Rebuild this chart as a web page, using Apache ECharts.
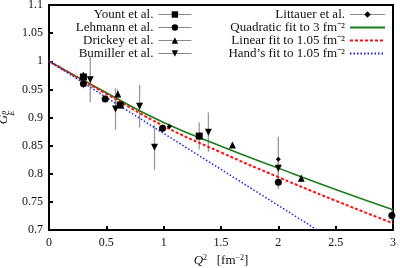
<!DOCTYPE html>
<html>
<head>
<meta charset="utf-8">
<script src="https://cdn.jsdelivr.net/npm/echarts@6/dist/echarts.min.js"></script>
<style>
  html, body { margin: 0; padding: 0; background: #fff; }
  #chart { width: 400px; height: 268px; }
</style>
</head>
<body>
<div id="chart"></div>
<script>
// measured points (Q^2 in fm^-2, G_E^p, error)
const yountX = [0.30, 0.62, 1.31];
const yountY = [0.972, 0.922, 0.867];
const yountErr = [0.006, 0.006, 0.024];

const lehmannX = [0.30, 0.49, 0.99, 2.00, 2.99];
const lehmannY = [0.960, 0.933, 0.881, 0.785, 0.726];
const lehmannErr = [0.008, 0.006, 0.006, 0.012, 0.010];

const drickeyX = [0.30, 0.60, 1.60, 2.20];
const drickeyY = [0.975, 0.942, 0.851, 0.792];
const drickeyErr = [0.006, 0.008, 0.004, 0.006];

const bumillerX = [0.36, 0.58, 0.79, 0.92, 1.39, 2.00];
const bumillerY = [0.967, 0.915, 0.920, 0.847, 0.874, 0.810];
const bumillerErr = [0.040, 0.037, 0.038, 0.040, 0.035, 0.020];

const littauerX = [1.05, 2.00];
const littauerY = [0.884, 0.826];
const littauerErr = [0.005, 0.040];

// fit curves
const quadX = [0, 0.5, 1, 1.5, 2, 2.5, 3];
const quadY = [1, 0.944, 0.891, 0.849, 0.810, 0.772, 0.736];
const linX = [0, 0.5, 1, 1.5, 2, 2.5, 3];
const linY = [1, 0.942, 0.885, 0.838, 0.794, 0.752, 0.712];
const handX = [0, 2.34];
const handY = [1, 0.70];

const serif = 'Liberation Serif';

function pts(xs, ys) { return xs.map((x, i) => [x, ys[i]]) }
function bars(xs, ys, es) { return xs.map((x, i) => [x, ys[i] - es[i], ys[i] + es[i]]) }

function errSeries(xs, ys, es) {
    return {
        type: 'custom',
        silent: true,
        z: 1,
        data: bars(xs, ys, es),
        renderItem(params, api) {
            const a = api.coord([api.value(0), api.value(1)])
            const b = api.coord([api.value(0), api.value(2)])
            return {
                type: 'line',
                shape: { x1: a[0], y1: a[1], x2: b[0], y2: b[1] },
                style: { stroke: '#999', lineWidth: 1.3 }
            }
        }
    }
}

function dataSeries(name, xs, ys, symbol, size) {
    return {
        name: name,
        type: 'line',
        z: 3,
        data: pts(xs, ys),
        symbol: symbol,
        symbolSize: size,
        itemStyle: { color: '#000' },
        lineStyle: { opacity: 0 }
    }
}

const legendLine = { opacity: 1, color: '#888', width: 1.2 }
const noSymbol = { opacity: 0 }
const textStyle = { fontFamily: serif, fontSize: 13, color: '#111', lineHeight: 12 }

const chart = echarts.init(document.getElementById('chart'))
chart.setOption({
    animation: false,
    grid: {
        left: 49, right: 7, top: 5, bottom: 38,
        containLabel: false, outerBoundsMode: 'none',
        show: true, borderColor: '#000', borderWidth: 2
    },
    legend: [
        {
            orient: 'vertical', right: 208, top: 8, align: 'right',
            itemWidth: 33, itemHeight: 8, itemGap: 0, padding: 0,
            textStyle: textStyle,
            data: [
                { name: 'Yount et al.', lineStyle: legendLine },
                { name: 'Lehmann et al.', lineStyle: legendLine },
                { name: 'Drickey et al.', lineStyle: legendLine },
                { name: 'Bumiller et al.', lineStyle: legendLine }
            ]
        },
        {
            orient: 'vertical', right: 14, top: 8, align: 'right',
            itemWidth: 35, itemHeight: 8, itemGap: 0, padding: 0,
            textStyle: textStyle,
            data: [
                { name: 'Littauer et al.', lineStyle: legendLine },
                { name: 'Quadratic fit to 3 fm⁻²', itemStyle: noSymbol },
                { name: 'Linear fit to 1.05 fm⁻²', itemStyle: noSymbol },
                { name: 'Hand’s fit to 1.05 fm⁻²', itemStyle: noSymbol }
            ]
        }
    ],
    xAxis: {
        type: 'value', min: 0, max: 3, interval: 0.5,
        name: '{q|Q}{s|2}{n|   [fm}{s|−2}{n|]}',
        nameLocation: 'middle', nameGap: 22,
        nameTextStyle: {
            rich: {
                q: { fontFamily: serif, fontStyle: 'italic', fontSize: 13, color: '#111' },
                n: { fontFamily: serif, fontSize: 13, color: '#111' },
                s: { fontFamily: serif, fontSize: 8, color: '#111', verticalAlign: 'top', padding: [0, 0, 6, 0] }
            }
        },
        axisLine: { show: true, lineStyle: { color: '#000', width: 2 } },
        axisTick: { inside: true, length: 4, lineStyle: { color: '#000', width: 2 } },
        axisLabel: { fontFamily: serif, fontSize: 12, color: '#111', margin: 7 },
        splitLine: { show: false }
    },
    yAxis: {
        type: 'value', min: 0.7, max: 1.1, interval: 0.05,
        name: '{g|G}{s|p}\n{e|E}',
        nameLocation: 'middle', nameGap: 33, nameRotate: 90, nameMoveOverlap: false,
        nameTextStyle: {
            lineHeight: 8,
            rich: {
                g: { fontFamily: serif, fontStyle: 'italic', fontSize: 13, color: '#111', lineHeight: 8 },
                s: { fontFamily: serif, fontStyle: 'italic', fontSize: 8, color: '#111', lineHeight: 8 },
                e: { fontFamily: serif, fontStyle: 'italic', fontSize: 8, color: '#111', lineHeight: 8, padding: [0, 0, 0, 9] }
            }
        },
        axisLine: { show: true, lineStyle: { color: '#000', width: 2 } },
        axisTick: { inside: true, length: 4, lineStyle: { color: '#000', width: 2 } },
        axisLabel: {
            fontFamily: serif, fontSize: 12, color: '#111', margin: 6,
            formatter: v => String(parseFloat(v.toFixed(2)))
        },
        splitLine: { show: false }
    },
    series: [
        errSeries(yountX, yountY, yountErr),
        errSeries(lehmannX, lehmannY, lehmannErr),
        errSeries(drickeyX, drickeyY, drickeyErr),
        errSeries(bumillerX, bumillerY, bumillerErr),
        errSeries(littauerX, littauerY, littauerErr),
        {
            name: 'Quadratic fit to 3 fm⁻²', type: 'line', smooth: true, symbol: 'none', z: 2,
            data: pts(quadX, quadY), itemStyle: { color: '#1b7d1b' },
            lineStyle: { color: '#1b7d1b', width: 1.6 }
        },
        {
            name: 'Linear fit to 1.05 fm⁻²', type: 'line', smooth: true, symbol: 'none', z: 2,
            data: pts(linX, linY), itemStyle: { color: '#ff1010' },
            lineStyle: { color: '#ff1010', width: 2, type: [3, 2] }
        },
        {
            name: 'Hand’s fit to 1.05 fm⁻²', type: 'line', symbol: 'none', z: 2,
            data: pts(handX, handY), itemStyle: { color: '#2020e0' },
            lineStyle: { color: '#2020e0', width: 1.5, type: [1.5, 2] }
        },
        dataSeries('Yount et al.', yountX, yountY, 'rect', 7),
        dataSeries('Lehmann et al.', lehmannX, lehmannY, 'circle', 7),
        dataSeries('Drickey et al.', drickeyX, drickeyY, 'triangle', 7),
        dataSeries('Bumiller et al.', bumillerX, bumillerY, 'path://M0,0 L10,0 L5,9 Z', 7),
        dataSeries('Littauer et al.', littauerX, littauerY, 'diamond', 5)
    ]
})
</script>
</body>
</html>
